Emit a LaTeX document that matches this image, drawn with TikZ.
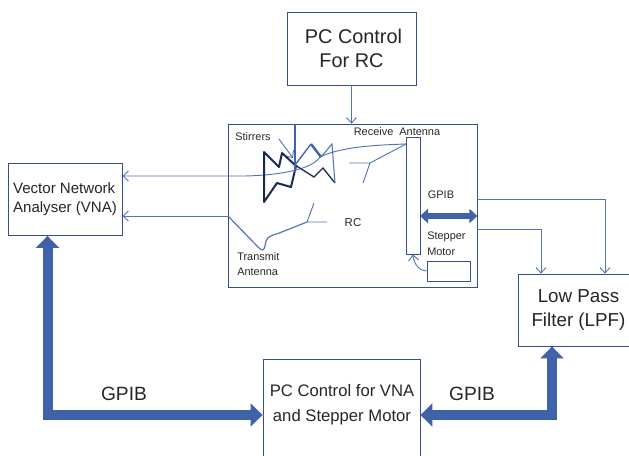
\documentclass[tikz,border=0pt]{standalone}
\usepackage{fontspec}
\setmainfont{Liberation Sans}
\usetikzlibrary{arrows.meta}
\definecolor{linkblue}{HTML}{5275BA}
\definecolor{gpibblue}{HTML}{3F62A8}
\definecolor{boxblue}{HTML}{34508F}
\definecolor{stirnavy}{HTML}{1B2A55}
\tikzset{
  boxnode/.style={draw=boxblue, line width=0.6pt, inner sep=0pt},
  biglabel/.style={font=\fontsize{14.4}{17.5}\selectfont, text=black!85},
  midlabel/.style={font=\fontsize{11.3}{14.2}\selectfont, text=black!85, align=left},
  pclabel/.style={font=\fontsize{12.5}{18.5}\selectfont, text=black!85, align=center},
  smalllabel/.style={font=\fontsize{8.2}{11.8}\selectfont, text=black!85, align=left, inner sep=0pt},
  thinlink/.style={draw=linkblue, line width=0.7pt, >={Straight Barb[length=4pt,width=7.5pt]}},
  gpiblink/.style={draw=gpibblue, line width=7.5pt, line cap=rect, -{Triangle[length=9pt,width=17pt]}},
  gpibdouble/.style={draw=gpibblue, line width=4.8pt, {Triangle[length=6pt,width=10.5pt]}-{Triangle[length=6pt,width=10.5pt]}}
}
\begin{document}
\begin{tikzpicture}[x=0.75pt, y=-0.75pt]
    \clip (0, 0) rectangle (629, 455);
    \useasboundingbox (0, 0) rectangle (629, 455);
    \begin{scope}
      \node[boxnode, minimum width=96.75pt, minimum height=54.75pt, biglabel, font=\fontsize{14.9}{17.5}\selectfont, align=center] at (351.5, 48.5) (PCRC) {\hspace*{3pt}PC Control\\For RC};
      \node[boxnode, minimum width=186.75pt, minimum height=122.25pt] at (352.5, 205.5) (RC) {};
      \node[boxnode, minimum width=85.5pt, minimum height=54pt, midlabel] at (65, 199.5) (VNA) {Vector Network\\Analyser (VNA)};
      \node[boxnode, minimum width=90.75pt, minimum height=54pt, biglabel, font=\fontsize{14.1}{17.5}\selectfont, align=center] at (578.5, 310) (LPF) {Low Pass\\Filter (LPF)};
      \node[boxnode, minimum width=117.75pt, minimum height=87pt] at (341.5, 417) (PCVNA) {};
      \node[boxnode, minimum width=10.5pt, minimum height=87.75pt] at (413, 195.5) (Rail) {};
      \node[boxnode, minimum width=32.25pt, minimum height=15pt] at (448.5, 271) (Motor) {};
      \node[pclabel] at (342, 405) (PCVNAtext) {PC Control for VNA\\and Stepper Motor};
      \node[smalllabel] at (253, 137) (Stirrers) {Stirrers};
      \node[smalllabel] at (397, 132) (Receive) {Receive\ \ Antenna};
      \node[smalllabel, font=\fontsize{8.6}{11}\selectfont] at (353, 223) (RClabel) {RC};
      \node[smalllabel] at (441, 195) (GPIBsmall) {GPIB};
      \node[smalllabel, anchor=west] at (427, 243.5) (Stepper) {Stepper\\Motor};
      \node[smalllabel, anchor=west] at (237, 264) (Transmit) {Transmit\\Antenna};
      \node[biglabel] at (124, 394) (GPIBleft) {GPIB};
      \node[biglabel] at (472, 394) (GPIBright) {GPIB};
      \coordinate (RxPort) at (228, 176);
      \coordinate (TxPort) at (228, 216);
      \coordinate (RxTap) at (406, 144);
      \coordinate (RxFeed) at (370, 163);
      \coordinate (TxFeed) at (307, 222);
      \coordinate (MotorOut) at (477, 199);
      \coordinate (StepOut) at (477, 229);
      \coordinate (LeftCorner) at (47.5, 415);
      \coordinate (RightCorner) at (552, 415);
      \coordinate (RailGpib) at (420, 216);
      \coordinate (StirTop) at (295, 124);
      \coordinate (StirHub) at (295, 165);
      \coordinate (StirTip) at (293, 158);
      \draw[thinlink, ->] (PCRC.south) -- (PCRC.south |- RC.north);
      \draw[thinlink, ->] (RxTap) .. controls (375, 145) and (340, 147) .. (320, 157) .. controls (313, 168) and (285, 175) .. (245, 176) -- (RxPort) -- (VNA.east |- RxPort);
      \draw[thinlink, ->] (TxPort) -- (VNA.east |- TxPort);
      \draw[thinlink, line width=0.9pt] (TxPort) -- (258, 247) .. controls (261, 250) and (264, 252) .. (265, 246) .. controls (266, 238) and (268, 236) .. (278, 233.5) -- (TxFeed);
      \draw[thinlink] (RxTap) -- (RxFeed);
      \draw[thinlink] (349, 163) -- (RxFeed) -- (363, 183);
      \draw[thinlink] (327, 222) -- (TxFeed) -- (314, 203);
      \draw[thinlink, ->] (MotorOut) -| (605, 199) -- (LPF.north -| 605, 0);
      \draw[thinlink, ->] (StepOut) -| (541, 229) -- (LPF.north -| 541, 0);
      \draw[thinlink, ->] (Motor.west) .. controls (420, 271) and (414, 265) .. (Rail.south);
      \draw[thinlink, ->] (279, 139) -- (StirTip);
      \draw[gpiblink] (LeftCorner) -- (VNA.south -| LeftCorner);
      \draw[gpiblink] (LeftCorner) -- (PCVNA.west |- LeftCorner);
      \draw[gpiblink] (RightCorner) -- (LPF.south -| RightCorner);
      \draw[gpiblink] (RightCorner) -- (PCVNA.east |- RightCorner);
      \draw[gpibdouble] (RailGpib) -- (RailGpib -| RC.east);
      \draw[stirnavy, line width=1.5pt, line join=round] (264, 152) -- (279, 167) -- (282, 153) -- (296, 166) -- (291, 187) -- (277, 183) -- (264, 202) -- cycle;
      \draw[stirnavy, line width=1pt] (StirHub) -- (314, 177) -- (323, 168) -- (335, 183);
      \draw[linkblue, line width=0.8pt] (335, 183) -- (332, 144) -- (321, 157);
      \draw[gpibblue, line width=1.8pt] (321, 157) -- (311, 144);
      \draw[gpibblue, line width=1pt] (311, 144) -- (StirHub);
      \draw[gpibblue, line width=2pt] (StirTop) -- (StirHub |- 0, 172);
    \end{scope}
  \end{tikzpicture}
\end{document}
